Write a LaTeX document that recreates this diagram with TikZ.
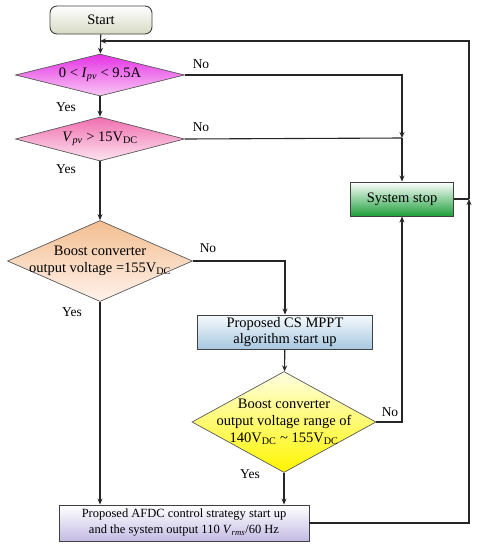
\documentclass[tikz,border=0pt]{standalone}
\usepackage{fontspec}
\setmainfont{Liberation Serif}
\usetikzlibrary{shapes.geometric,arrows.meta,calc}
\begin{document}
\begin{tikzpicture}[x=1pt,y=-1pt,
  every node/.append style={font=\fontsize{14.5}{17}\selectfont},
  line/.style={draw=black!85, line width=1.1pt},
  arr/.style={line, -{Stealth[length=6pt,width=5pt]}},
  boxst/.style={draw=black!75, line width=0.9pt, inner sep=0pt},
  diast/.style={diamond, draw=black!65, line width=0.7pt, inner sep=0pt},
  lbl/.style={font=\fontsize{13.5}{15}\selectfont, inner sep=0pt}]
\useasboundingbox (0,0) rectangle (478,550);
% nodes
\node[boxst, rounded corners=7pt, minimum width=102pt, minimum height=28pt,
  top color=white, bottom color={rgb,255:red,214;green,218;blue,196}] (start) at (101,20) {Start};
\node[diast, minimum width=169pt, minimum height=42pt,
  top color={rgb,255:red,228;green,50;blue,228}, bottom color={rgb,255:red,250;green,200;blue,245}] (d1) at (100,75) {};
\node at (d1) {0 < \textit{I}\textsubscript{\textit{pv}} < 9.5A};
\node[diast, minimum width=169pt, minimum height=44pt,
  top color={rgb,255:red,240;green,110;blue,175}, bottom color={rgb,255:red,253;green,228;blue,240}] (d2) at (100,139) {};
\node at (d2) {\textit{V}\textsubscript{\textit{pv}} > 15V\textsubscript{DC}};
\node[diast, minimum width=185pt, minimum height=81pt,
  top color={rgb,255:red,243;green,190;blue,145}, bottom color={rgb,255:red,255;green,242;blue,235}] (d3) at (100,261) {};
\node[align=center] at (d3) {Boost converter\\output voltage =155V\textsubscript{DC}};
\node[boxst, minimum width=175pt, minimum height=34pt, align=center,
  top color={rgb,255:red,245;green,250;blue,252}, bottom color={rgb,255:red,168;green,200;blue,225}] (cs) at (285,332) {Proposed CS MPPT\\[-1pt]algorithm start up};
\node[diast, minimum width=184pt, minimum height=101pt,
  top color={rgb,255:red,255;green,255;blue,225}, bottom color={rgb,255:red,255;green,245;blue,0}] (d4) at (284,422) {};
\node[align=center] at (d4) {Boost converter\\output voltage range of\\140V\textsubscript{DC} \textasciitilde{} 155V\textsubscript{DC}};
\node[boxst, minimum width=103pt, minimum height=34pt,
  top color=white, bottom color={rgb,255:red,30;green,160;blue,60}] (stop) at (402,199) {System stop};
\node[boxst, minimum width=250pt, minimum height=36pt, align=center,
  font=\fontsize{12.5}{16}\selectfont,
  top color=white, bottom color={rgb,255:red,196;green,188;blue,228}] (fin) at (184,523)
  {Proposed AFDC control strategy start up\\and the system output 110 \textit{V}\textsubscript{\textit{rms}}/60 Hz};
% junction coordinates
\coordinate (m1) at (402,138);
\coordinate (m2) at (469,199);
\coordinate (m3) at (100,41);
% connectors
\draw[arr] (start) -- (d1);
\draw[arr] (d1) -- (d2);
\draw[arr] (d2) -- (d3);
\draw[arr] (d1.east) -| (m1);
\draw[line] (d2.east) -- (m1);
\draw[arr] (m1) -- (stop.north);
\draw[arr] (d3.east) -| (cs.north);
\draw[arr] (cs) -- (d4);
\draw[arr] (d4.east) -| (stop.south);
\draw[arr] (d3.south) -- (d3.south |- fin.north);
\draw[arr] (d4.south) -- (d4.south |- fin.north);
\draw[arr] (fin.east) -| (m2);
\draw[line] (stop.east) -- (m2);
\draw[arr] (m2) |- (m3);
% labels
\node[lbl] (no1) at (201,64) {No};
\node[lbl] (no2) at (201,127) {No};
\node[lbl] (no3) at (208,248) {No};
\node[lbl] (no4) at (390,412) {No};
\node[lbl] (yes1) at (66,107) {Yes};
\node[lbl] (yes2) at (66,169) {Yes};
\node[lbl] (yes3) at (72,312) {Yes};
\node[lbl] (yes4) at (250,474) {Yes};
\end{tikzpicture}
\end{document}
